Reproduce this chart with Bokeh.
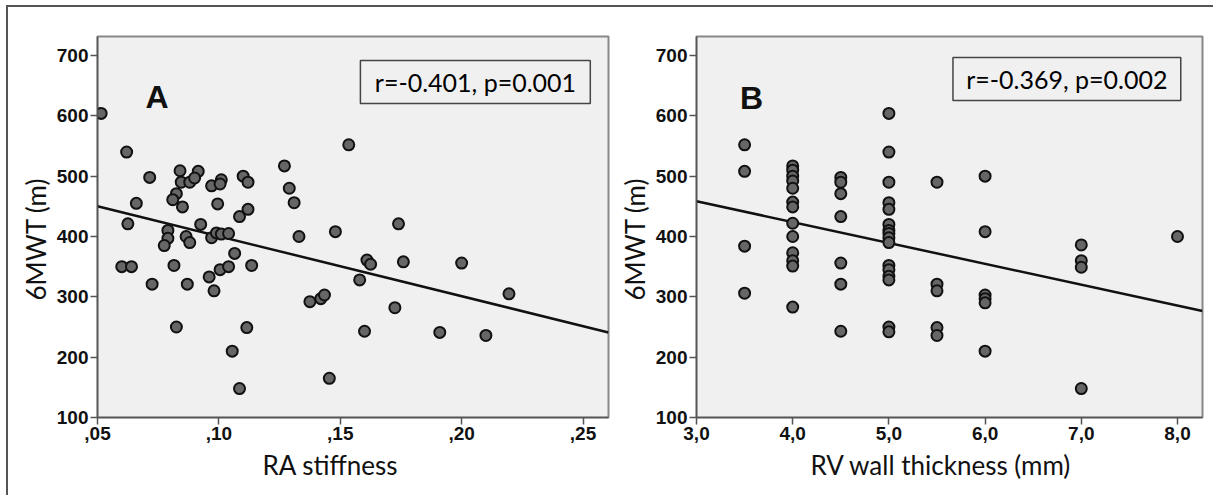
from bokeh.plotting import figure
from bokeh.models import FixedTicker, Range1d, Title
from bokeh.layouts import row
from bokeh.core.properties import value
from bokeh.embed import file_html
from bokeh.resources import INLINE

# ---------------- data ----------------
# Panel A: RA stiffness vs 6MWT
ra_stiffness = [0.0515, 0.062, 0.0715, 0.084, 0.0915, 0.0845, 0.088, 0.090, 0.097, 0.101,
                0.1005, 0.110, 0.112, 0.0825, 0.081, 0.085, 0.066, 0.0625, 0.0995, 0.1085,
                0.112, 0.0925, 0.079, 0.079, 0.0775, 0.0865, 0.088, 0.097, 0.099, 0.101,
                0.104, 0.1065, 0.060, 0.064, 0.0725, 0.0815, 0.087, 0.096, 0.098, 0.1005,
                0.104, 0.1135, 0.0825, 0.1115, 0.1055, 0.1085, 0.127, 0.129, 0.131, 0.133,
                0.1535, 0.148, 0.1375, 0.142, 0.1435, 0.1455, 0.158, 0.161, 0.1625, 0.160,
                0.174, 0.176, 0.1725, 0.191, 0.200, 0.210, 0.2195]
mwt_a = [604, 540, 498, 509, 508, 490, 490, 497, 484, 494,
         487, 500, 490, 471, 461, 449, 455, 421, 454, 433,
         445, 420, 410, 397, 385, 400, 390, 398, 406, 404,
         405, 372, 350, 350, 321, 352, 321, 333, 310, 345,
         350, 352, 250, 249, 210, 148, 517, 480, 456, 400,
         552, 408, 292, 297, 303, 165, 328, 361, 354, 243,
         421, 358, 282, 241, 356, 236, 305]
fit_a_x = [0.05, 0.2605]
fit_a_y = [450, 241]

# Panel B: RV wall thickness vs 6MWT
rv_wall = ([3.5] * 4 + [4.0] * 13 + [4.5] * 7 + [5.0] * 16 + [5.5] * 5 + [6.0] * 6
           + [7.0] * 4 + [8.0])
mwt_b = [552, 508, 384, 306,
         517, 510, 500, 492, 480, 457, 449, 422, 400, 373, 360, 351, 283,
         498, 490, 471, 433, 356, 321, 243,
         604, 540, 490, 456, 445, 420, 410, 405, 398, 390, 352, 345, 334, 328, 250, 242,
         490, 321, 310, 249, 236,
         500, 408, 303, 297, 290, 210,
         386, 360, 349, 148,
         400]
fit_b_x = [3.0, 8.26]
fit_b_y = [458.5, 276.5]

y_ticks = [100, 200, 300, 400, 500, 600, 700]
a_ticks = [0.05, 0.10, 0.15, 0.20, 0.25]
a_tick_labels = [",05", ",10", ",15", ",20", ",25"]
b_ticks = [3.0, 4.0, 5.0, 6.0, 7.0, 8.0]
b_tick_labels = ["3,0", "4,0", "5,0", "6,0", "7,0", "8,0"]

panel_letters = ["A", "B"]
stats_text = ["r=-0.401, p=0.001", "r=-0.369, p=0.002"]
x_titles = ["RA stiffness", "RV wall thickness (mm)"]
y_title = "6MWT (m)"

TICK_FONT = "Liberation Sans Narrow, Liberation Sans"
LABEL_FONT = "Lato"


def style(p, ticks, tick_labels):
    p.xgrid.visible = False
    p.ygrid.visible = False
    p.xaxis.ticker = FixedTicker(ticks=ticks)
    p.xaxis.major_label_overrides = {t: l for t, l in zip(ticks, tick_labels)}
    p.yaxis.ticker = FixedTicker(ticks=y_ticks)
    for ax in (p.xaxis, p.yaxis):
        ax.axis_line_color = "#555555"
        ax.axis_line_width = 1.5
        ax.major_tick_line_color = "#555555"
        ax.major_tick_line_width = 1.5
        ax.major_tick_out = 7
        ax.major_tick_in = 0
        ax.minor_tick_line_color = None
        ax.major_label_text_font = TICK_FONT
        ax.major_label_text_font_style = "bold"
        ax.major_label_text_font_size = "19px"
        ax.major_label_text_color = "#111111"
        ax.major_label_standoff = 2


def axis_title(text, offset, standoff):
    return Title(text=text, align="left", offset=offset, standoff=standoff,
                 text_font=LABEL_FONT, text_font_size="26px", text_font_style="normal",
                 text_color="#111111")


def make_panel(xr, width, mb_left, mb_right, xs, ys, fx, fy, ticks, tick_labels,
               xtitle, xoffset):
    p = figure(width=width, height=488, x_range=xr, y_range=Range1d(100, 731.5),
               output_backend="svg", toolbar_location=None,
               min_border_left=mb_left, min_border_right=mb_right,
               min_border_top=29, min_border_bottom=78,
               background_fill_color="#f0f0f0", border_fill_color="white",
               outline_line_color="#888888", outline_line_width=2)
    style(p, ticks, tick_labels)
    p.add_layout(axis_title(xtitle, xoffset, 8), "below")
    p.add_layout(axis_title(y_title, 117, 4), "left")
    p.line(fx, fy, line_color="#111111", line_width=2.5)
    p.scatter(xs, ys, size=11, fill_color="#666666", line_color="#111111", line_width=2)
    return p


pA = make_panel(Range1d(0.05, 0.2605), 606, 89, 6, ra_stiffness, mwt_a, fit_a_x, fit_a_y,
                a_ticks, a_tick_labels, x_titles[0], 165)
pB = make_panel(Range1d(3.0, 8.26), 599, 77, 11, rv_wall, mwt_b, fit_b_x, fit_b_y,
                b_ticks, b_tick_labels, x_titles[1], 114)

# stats boxes
pA.quad(left=[0.1583], right=[0.2530], bottom=[620.4], top=[691.7],
        fill_color="#f0f0f0", line_color="#444444", line_width=1.5)
pB.quad(left=[5.666], right=[8.034], bottom=[625.4], top=[696.7],
        fill_color="#f0f0f0", line_color="#444444", line_width=1.5)
pA.text(x=[0.2057], y=[656], text=[stats_text[0]], text_font=value(LABEL_FONT),
        text_font_size="25px", text_align="center", text_baseline="middle", text_color="#000000")
pB.text(x=[6.85], y=[661], text=[stats_text[1]], text_font=value(LABEL_FONT),
        text_font_size="25px", text_align="center", text_baseline="middle", text_color="#000000")

# panel letters
pA.text(x=[0.0698], y=[630.4], text=[panel_letters[0]], text_font=value("Liberation Sans"),
        text_font_style="bold", text_font_size="32px", text_align="left",
        text_baseline="alphabetic", text_color="#111111")
pB.text(x=[3.453], y=[630], text=[panel_letters[1]], text_font=value("Liberation Sans"),
        text_font_style="bold", text_font_size="32px", text_align="left",
        text_baseline="alphabetic", text_color="#111111")

layout = row(pA, pB, styles={"margin-top": "5px", "margin-left": "6px",
                             "border-top": "2px solid #555555",
                             "border-left": "2px solid #555555"})

open("out.html", "w").write(file_html(layout, INLINE))
